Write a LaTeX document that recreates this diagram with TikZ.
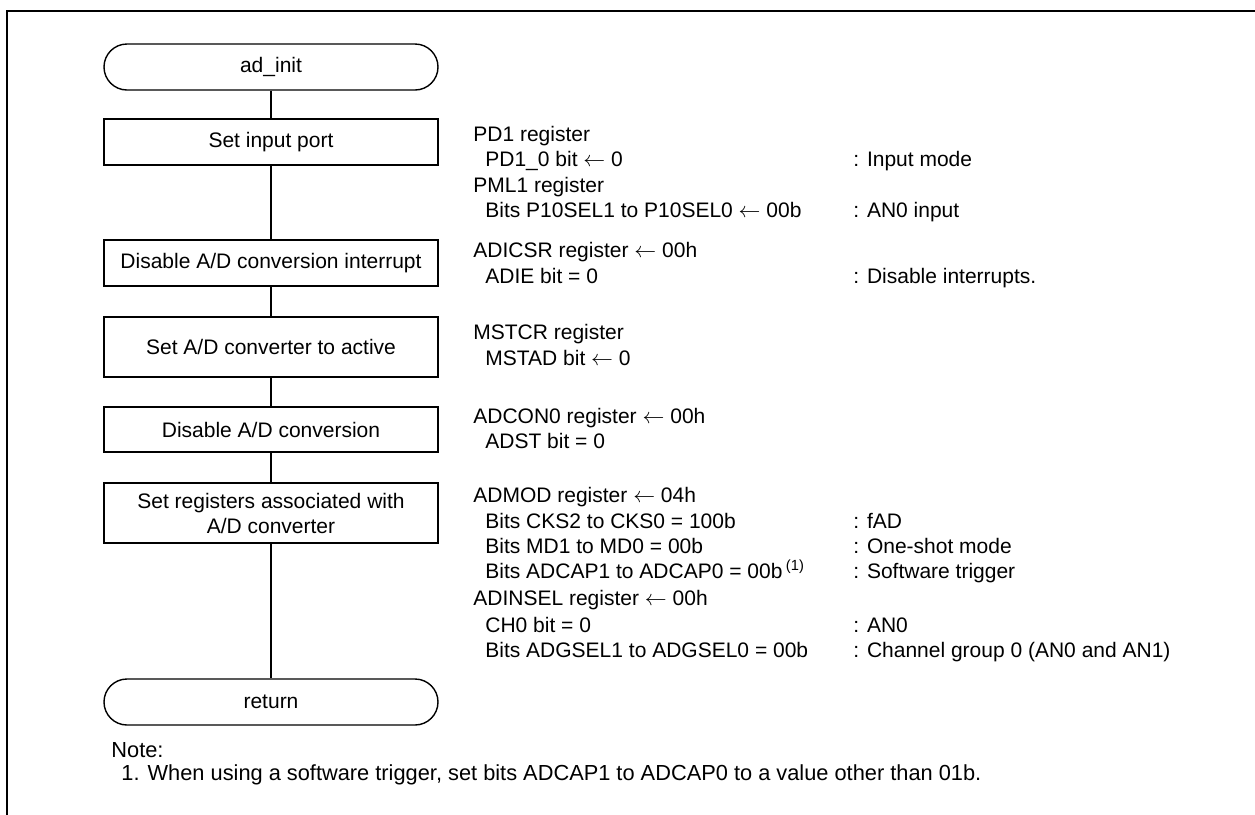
\documentclass[tikz,border=0pt]{standalone}
\usepackage{fontspec}
\setmainfont{Liberation Sans}
\begin{document}
\begin{tikzpicture}[x=0.5pt,y=-0.5pt,
  every node/.style={font=\fontsize{10.5pt}{12.5pt}\selectfont},
  proc/.style={draw, line width=0.7pt, minimum width=167pt, align=center, inner sep=0pt},
  term/.style={proc, rounded corners=11.5pt, minimum height=23pt},
  txt/.style={anchor=base west, inner sep=0pt},
  notetxt/.style={txt, font=\fontsize{10.9pt}{13pt}\selectfont},
  conn/.style={line width=0.7pt},
  frame/.style={line width=1.4pt}]
\useasboundingbox (0,0) rectangle (1255,815);
% frame
\draw[frame] (7,815) -- (7,11) -- (1255,11);
% flowchart
\node[term] (start) at (271,67) {ad\_init};
\node[proc, minimum height=23pt] (p1) at (271,142) {Set input port};
\node[proc, minimum height=23pt] (p2) at (271,263) {Disable A/D conversion interrupt};
\node[proc, minimum height=30pt] (p3) at (271,347) {Set A/D converter to active};
\node[proc, minimum height=22.5pt] (p4) at (271,429.5) {Disable A/D conversion};
\node[proc, minimum height=30pt] (p5) at (271,513) {Set registers associated with\\A/D converter};
\node[term] (ret) at (271,702) {return};
\draw[conn] (start) -- (p1);
\draw[conn] (p1) -- (p2);
\draw[conn] (p2) -- (p3);
\draw[conn] (p3) -- (p4);
\draw[conn] (p4) -- (p5);
\draw[conn] (p5) -- (ret);
% register texts
\node[txt] (a1) at (473,141) {PD1 register};
\node[txt] (a2) at (473,166) {\hspace*{6pt}PD1\_0 bit $\leftarrow$ 0};
\node[txt] (a3) at (473,192) {PML1 register};
\node[txt] (a4) at (473,217) {\hspace*{6pt}Bits P10SEL1 to P10SEL0 $\leftarrow$ 00b};
\node[txt] (b1) at (473,257) {ADICSR register $\leftarrow$ 00h};
\node[txt] (b2) at (473,283) {\hspace*{6pt}ADIE bit = 0};
\node[txt] (c1) at (473,339) {MSTCR register};
\node[txt] (c2) at (473,365) {\hspace*{6pt}MSTAD bit $\leftarrow$ 0};
\node[txt] (d1) at (473,423) {ADCON0 register $\leftarrow$ 00h};
\node[txt] (d2) at (473,448) {\hspace*{6pt}ADST bit = 0};
\node[txt] (e1) at (473,502) {ADMOD register $\leftarrow$ 04h};
\node[txt] (e2) at (473,528) {\hspace*{6pt}Bits CKS2 to CKS0 = 100b};
\node[txt] (e3) at (473,553) {\hspace*{6pt}Bits MD1 to MD0 = 00b};
\node[txt] (e4) at (473,578) {\hspace*{6pt}Bits ADCAP1 to ADCAP0 = 00b\,\textsuperscript{(1)}};
\node[txt] (e5) at (473,605) {ADINSEL register $\leftarrow$ 00h};
\node[txt] (e6) at (473,632) {\hspace*{6pt}CH0 bit = 0};
\node[txt] (e7) at (473,657) {\hspace*{6pt}Bits ADGSEL1 to ADGSEL0 = 00b};
% comments
\node[txt] (k1) at (853,166) {: Input mode};
\node[txt] (k2) at (853,217) {: AN0 input};
\node[txt] (k3) at (853,283) {: Disable interrupts.};
\node[txt] (k4) at (853,528) {: fAD};
\node[txt] (k5) at (853,553) {: One-shot mode};
\node[txt] (k6) at (853,578) {: Software trigger};
\node[txt] (k7) at (853,632) {: AN0};
\node[txt] (k8) at (853,657) {: Channel group 0 (AN0 and AN1)};
% note
\node[notetxt] (n1) at (111,757) {Note:};
\node[notetxt] (n2) at (121,780) {1. When using a software trigger, set bits ADCAP1 to ADCAP0 to a value other than 01b.};
\end{tikzpicture}
\end{document}
